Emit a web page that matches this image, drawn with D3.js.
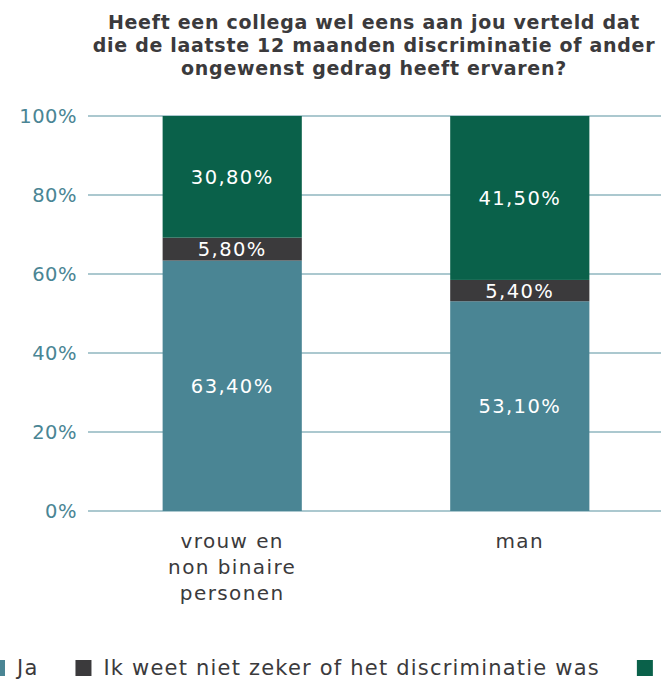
<!DOCTYPE html>
<meta charset="utf-8">
<head>
  <script src="https://cdn.jsdelivr.net/npm/d3@7"></script>
</head>
<style>
  body {
    margin: 0;
    background: #fff;
  }
  svg {
    display: block;
    font-family: "DejaVu Sans", sans-serif;
  }
</style>
<body></body>
<script type="text/javascript">
  var categories = ["vrouw en non binaire personen", "man"];
  var catLines = [["vrouw en", "non binaire", "personen"], ["man"]];
  var seriesNames = ["Ja", "Ik weet niet zeker of het discriminatie was", "Nee"];
  var ja = [63.4, 53.1];
  var weetNiet = [5.8, 5.4];
  var nee = [30.8, 41.5];
  var yTicks = [0, 20, 40, 60, 80, 100];
  var titleLines = [
    "Heeft een collega wel eens aan jou verteld dat",
    "die de laatste 12 maanden discriminatie of ander",
    "ongewenst gedrag heeft ervaren?"
  ];

  var width = 661, height = 679;
  var colors = ["#4a8594", "#3b3a3c", "#0a614a"];
  var ink = "#3b3a3c";

  var svg = d3.select("body").append("svg")
      .attr("width", width)
      .attr("height", height);

  // title
  svg.append("text")
      .attr("text-anchor", "middle")
      .attr("font-weight", "bold")
      .attr("font-size", 19)
      .attr("letter-spacing", 0.7)
      .attr("fill", ink)
    .selectAll("tspan")
    .data(titleLines)
    .enter().append("tspan")
      .attr("x", 374)
      .attr("y", function(d, i) { return 29 + i * 23; })
      .text(function(d) { return d; });

  var y = d3.scaleLinear().domain([0, 100]).range([511, 116]);
  var x = d3.scaleBand().domain(categories).range([89, 663]).paddingInner(0.516).paddingOuter(0.256);

  // gridlines + y tick labels
  var grid = svg.append("g");
  grid.selectAll("line")
      .data(yTicks)
    .enter().append("line")
      .attr("x1", 88)
      .attr("x2", width)
      .attr("y1", function(d) { return y(d); })
      .attr("y2", function(d) { return y(d); })
      .attr("stroke", "#8fb6bf")
      .attr("stroke-width", 1.5);

  grid.selectAll("text")
      .data(yTicks)
    .enter().append("text")
      .attr("x", 77)
      .attr("y", function(d) { return y(d); })
      .attr("dy", "0.36em")
      .attr("text-anchor", "end")
      .attr("font-size", 19.5)
      .attr("letter-spacing", 0.5)
      .attr("fill", "#4a8594")
      .text(function(d) { return d + "%"; });

  // stack
  var rows = categories.map(function(c, i) {
    return {cat: c, ja: ja[i], weetNiet: weetNiet[i], nee: nee[i]};
  });
  var stack = d3.stack().keys(["ja", "weetNiet", "nee"])(rows);

  var layers = svg.selectAll("g.layer")
      .data(stack)
    .enter().append("g")
      .attr("class", "layer")
      .attr("fill", function(d, i) { return colors[i]; });

  layers.selectAll("rect")
      .data(function(d) { return d; })
    .enter().append("rect")
      .attr("x", function(d) { return x(d.data.cat); })
      .attr("width", x.bandwidth())
      .attr("y", function(d) { return y(d[1]); })
      .attr("height", function(d) { return y(d[0]) - y(d[1]); });

  var fmt = function(v) { return v.toFixed(2).replace(".", ",") + "%"; };

  layers.selectAll("text")
      .data(function(d) { return d; })
    .enter().append("text")
      .attr("x", function(d) { return x(d.data.cat) + x.bandwidth() / 2; })
      .attr("y", function(d) { return y((d[0] + d[1]) / 2); })
      .attr("dy", "0.36em")
      .attr("text-anchor", "middle")
      .attr("font-size", 19.5)
      .attr("letter-spacing", 1.4)
      .attr("fill", "#fff")
      .text(function(d) { return fmt(d[1] - d[0]); });

  // category labels
  var cats = svg.selectAll("text.cat")
      .data(categories)
    .enter().append("text")
      .attr("class", "cat")
      .attr("text-anchor", "middle")
      .attr("font-size", 20)
      .attr("letter-spacing", 1.4)
      .attr("fill", ink);
  cats.selectAll("tspan")
      .data(function(d, i) { return catLines[i].map(function(l) { return {cat: d, line: l}; }); })
    .enter().append("tspan")
      .attr("x", function(d) { return x(d.cat) + x.bandwidth() / 2; })
      .attr("y", function(d, i) { return 548 + i * 26; })
      .text(function(d) { return d.line; });

  // legend
  var legend = svg.append("g");
  var lx = -11;
  seriesNames.forEach(function(name, i) {
    legend.append("rect")
        .attr("x", lx)
        .attr("y", 660)
        .attr("width", 16)
        .attr("height", 16)
        .attr("fill", colors[i]);
    var t = legend.append("text")
        .attr("x", lx + 28)
        .attr("y", 675)
        .attr("font-size", 21)
        .attr("letter-spacing", 1.2)
        .attr("fill", ink)
        .text(name);
    lx += 28 + t.node().getComputedTextLength() + 37;
  });
</script>
